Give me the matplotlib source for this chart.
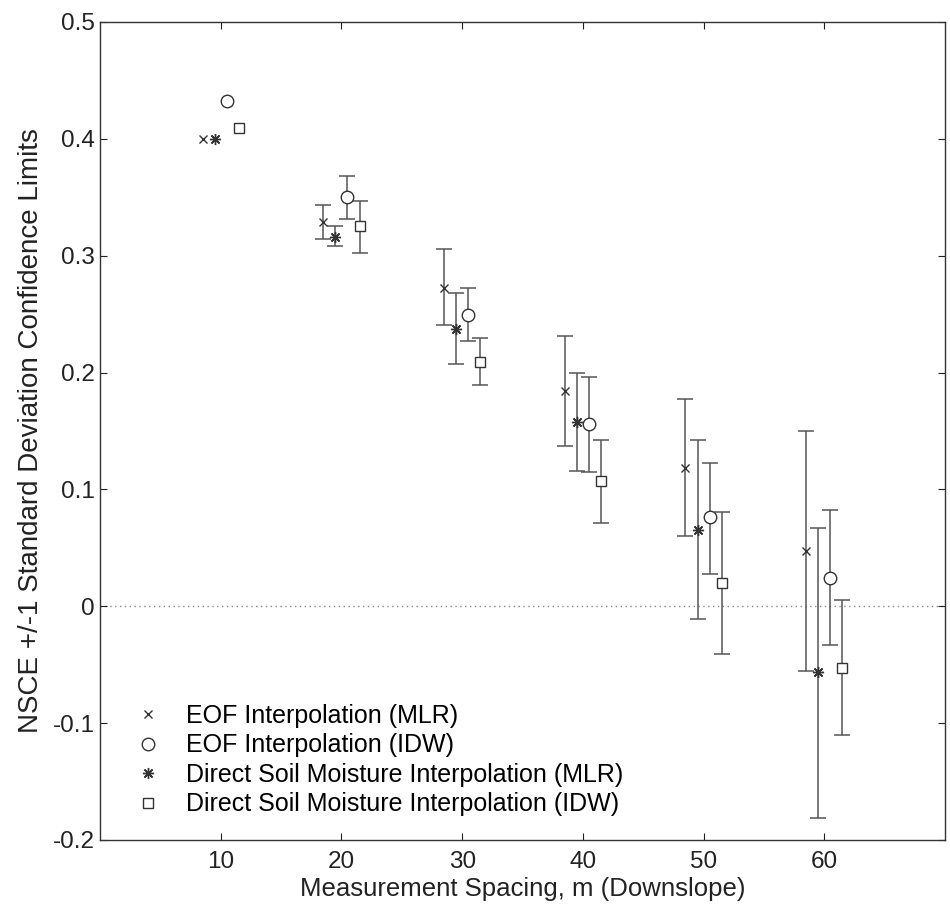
import matplotlib
matplotlib.use("Agg")
import matplotlib.pyplot as plt
import numpy as np

plt.rcParams['font.family'] = ['Liberation Sans', 'DejaVu Sans']

spacing = [10, 20, 30, 40, 50, 60]

series_labels = [
    "EOF Interpolation (MLR)",
    "EOF Interpolation (IDW)",
    "Direct Soil Moisture Interpolation (MLR)",
    "Direct Soil Moisture Interpolation (IDW)",
]

# NSCE mean values
eof_mlr = [0.400, 0.329, 0.272, 0.184, 0.118, 0.047]
eof_idw = [0.432, 0.350, 0.249, 0.156, 0.076, 0.024]
dsm_mlr = [0.400, 0.316, 0.237, 0.158, 0.065, -0.056]
dsm_idw = [0.409, 0.325, 0.209, 0.107, 0.020, -0.053]

# upper / lower confidence limits (nan = no bar)
eof_mlr_hi = [np.nan, 0.343, 0.306, 0.231, 0.177, 0.150]
eof_mlr_lo = [np.nan, 0.314, 0.241, 0.137, 0.060, -0.055]
eof_idw_hi = [np.nan, 0.368, 0.272, 0.196, 0.123, 0.082]
eof_idw_lo = [np.nan, 0.331, 0.227, 0.115, 0.028, -0.033]
dsm_mlr_hi = [np.nan, 0.325, 0.268, 0.200, 0.142, 0.067]
dsm_mlr_lo = [np.nan, 0.308, 0.207, 0.116, -0.011, -0.181]
dsm_idw_hi = [np.nan, 0.347, 0.230, 0.142, 0.081, 0.005]
dsm_idw_lo = [np.nan, 0.302, 0.189, 0.071, -0.041, -0.110]

offsets = [-1.5, 0.5, -0.5, 1.5]
means = [eof_mlr, eof_idw, dsm_mlr, dsm_idw]
his = [eof_mlr_hi, eof_idw_hi, dsm_mlr_hi, dsm_idw_hi]
los = [eof_mlr_lo, eof_idw_lo, dsm_mlr_lo, dsm_idw_lo]
markers = ['x', 'o', (8, 2, 0), 's']
msizes = [6, 9, 8, 7]

fig = plt.figure(figsize=(9.5, 9.1), dpi=100)
ax = fig.add_axes([100/950, 70/910, 845/950, 818/910])

col = '#333333'
ax.axhline(0, color='#888888', lw=1.0, ls=(0, (1, 2.5)), zorder=1)

for m, hi, lo, off, mk, ms, lab in zip(means, his, los, offsets, markers, msizes, series_labels):
    x = np.array(spacing, dtype=float) + off
    m = np.array(m); hi = np.array(hi); lo = np.array(lo)
    ok = ~np.isnan(hi)
    ax.errorbar(x[ok], m[ok], yerr=[m[ok] - lo[ok], hi[ok] - m[ok]], fmt='none',
                ecolor='#555555', elinewidth=1.1, capsize=5.5, capthick=1.1, zorder=2)
    ax.plot(x, m, linestyle='none', marker=mk, markersize=ms,
            markerfacecolor='white' if mk in ('o', 's') else col,
            markeredgecolor=col, markeredgewidth=1.0, zorder=3, label=lab)

ax.set_xlim(0, 70)
ax.set_ylim(-0.2, 0.5)
ax.set_xticks([10, 20, 30, 40, 50, 60])
ax.set_yticks([-0.2, -0.1, 0, 0.1, 0.2, 0.3, 0.4, 0.5])
ax.set_yticklabels(['-0.2', '-0.1', '0', '0.1', '0.2', '0.3', '0.4', '0.5'])
ax.tick_params(direction='in', top=True, right=True, length=5, width=0.8,
               labelsize=17.5, colors='#222222')
ax.tick_params(axis='x', pad=8)
ax.tick_params(axis='y', pad=4)
for s in ax.spines.values():
    s.set_color('#333333')
    s.set_linewidth(1.0)

ax.set_xlabel('Measurement Spacing, m (Downslope)', fontsize=18.5, color='#222222', labelpad=3)
ax.set_ylabel('NSCE +/-1 Standard Deviation Confidence Limits', fontsize=20,
              color='#222222', labelpad=6)

leg = ax.legend(loc='lower left', frameon=False, fontsize=18, handletextpad=1.03,
                labelspacing=0.22, handlelength=1.0, borderpad=0.0,
                bbox_to_anchor=(0.0418, 0.0288), borderaxespad=0.0)

fig.savefig('out.png', dpi=100)
